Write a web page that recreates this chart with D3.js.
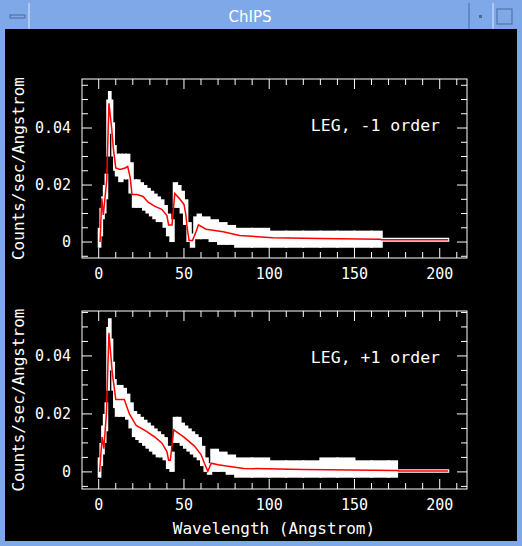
<!DOCTYPE html><html><head><script src="https://d3js.org/d3.v7.min.js"></script>
<style>body{margin:0;background:#000}</style></head><body><script>
const binTop=[0,1,2,3,4,5,6,7,8,9,10,12,14,16,18,20,22,24,26,28,30,32,34,36,38,40,42,44,46,48,50,52,54,56,58,60,65,70,75,80,90,100,110,120,130,140,150,160,166,205];
const loTop=[-0.002,0.002,0.008,0.01,0.015,0.03,0.044,0.038,0.03,0.025,0.023,0.021,0.022,0.022,0.017,0.012,0.012,0.012,0.011,0.010,0.009,0.008,0.007,0.007,0.005,0.002,0.000,0.012,0.012,0.010,0.006,0.000,-0.002,0.001,0.001,0.001,0.000,-0.001,-0.001,-0.002,-0.002,-0.002,-0.002,-0.002,-0.002,-0.002,-0.002,-0.002,0.0001];
const hiTop=[0.005,0.012,0.016,0.02,0.024,0.05,0.053,0.05,0.042,0.034,0.031,0.031,0.031,0.031,0.028,0.022,0.022,0.021,0.020,0.019,0.018,0.017,0.016,0.015,0.013,0.010,0.008,0.021,0.020,0.018,0.015,0.007,0.003,0.009,0.010,0.009,0.008,0.007,0.006,0.005,0.005,0.004,0.004,0.004,0.004,0.004,0.004,0.004,0.0015];
const modXTop=[0.8,1.8,2.7,4.7,6,7.6,8.6,10,12.5,15.5,17,18.5,19.5,22.5,26,29,33,37,40,41,43,44.6,47,50,51,52,53,55,57,58.5,63,73,82.6,102,130,165,166,205];
const modYTop=[0,0.0153,0.0095,0.0218,0.0487,0.040,0.0327,0.026,0.0255,0.026,0.0265,0.0225,0.0167,0.0167,0.016,0.014,0.0125,0.0115,0.0093,0.006,0.006,0.017,0.0155,0.0132,0.010,0.0045,0.0005,0.0005,0.0035,0.006,0.0045,0.0036,0.0023,0.0015,0.0012,0.001,0.0008,0.0008];
const binBot=[0,1,2,3,4,5,6,7,8,9,10,12,14,16,18,20,22,24,26,28,30,32,34,36,38,40,42,44,46,48,50,52,54,56,58,60,62,64,66,70,75,80,90,100,110,120,130,140,150,160,170,175,205];
const loBot=[-0.002,0.002,0.006,0.01,0.014,0.028,0.043,0.035,0.028,0.022,0.019,0.019,0.019,0.018,0.015,0.012,0.011,0.010,0.009,0.008,0.007,0.006,0.005,0.005,0.004,0.001,0.000,0.010,0.010,0.009,0.008,0.007,0.006,0.005,0.004,0.002,0.000,-0.001,0.000,0.000,-0.001,-0.002,-0.002,-0.002,-0.002,-0.002,-0.002,-0.002,-0.002,-0.002,-0.002,-0.0003];
const hiBot=[0.005,0.01,0.016,0.02,0.024,0.05,0.053,0.046,0.038,0.032,0.030,0.030,0.029,0.027,0.024,0.021,0.020,0.019,0.018,0.017,0.016,0.015,0.014,0.013,0.012,0.009,0.007,0.019,0.019,0.017,0.016,0.015,0.014,0.013,0.012,0.009,0.005,0.003,0.008,0.007,0.006,0.005,0.005,0.004,0.004,0.004,0.005,0.005,0.004,0.004,0.004,0.0009];
const modXBot=[0.5,2,3,4.5,6,8,10,15,18,22,28,33,37,40,41,42,44,50,56,60,62,64,66,70,75,85,120,175,176,205];
const modYBot=[0,0.012,0.008,0.02,0.048,0.034,0.025,0.025,0.02,0.016,0.014,0.012,0.010,0.007,0.004,0.004,0.0145,0.012,0.009,0.006,0.003,0.0002,0.003,0.0025,0.002,0.0012,0.0008,0.0005,0.0003,0.0003];
const xTicks=[0,50,100,150,200];
const yTicks=[0,0.02,0.04];
const labels=["LEG, -1 order","LEG, +1 order"];

const W=522,H=546;
const svg=d3.select("body").append("svg").attr("width",W).attr("height",H);
const blue="#7ea8e8";
svg.append("rect").attr("width",W).attr("height",H).attr("fill",blue);
svg.append("rect").attr("x",5).attr("y",29).attr("width",512).attr("height",512).attr("fill","#000");
svg.append("line").attr("x1",29).attr("x2",29).attr("y1",3).attr("y2",29).attr("stroke","#dfe9fb");
svg.append("line").attr("x1",469).attr("x2",469).attr("y1",3).attr("y2",29).attr("stroke","#4a6a9a");
svg.append("line").attr("x1",493).attr("x2",493).attr("y1",3).attr("y2",29).attr("stroke","#dfe9fb");
svg.append("rect").attr("x",10).attr("y",15).attr("width",15).attr("height",3).attr("fill","none").attr("stroke","#4a6a9a");
svg.append("rect").attr("x",479).attr("y",15).attr("width",3).attr("height",3).attr("fill","#4a6a9a");
svg.append("rect").attr("x",497).attr("y",9).attr("width",15).attr("height",15).attr("fill","none").attr("stroke","#4a6a9a");
svg.append("text").attr("x",250).attr("y",22).attr("text-anchor","middle").attr("fill","#fff").attr("font-family","DejaVu Sans").attr("font-size",15).text("ChIPS");

const x=d3.scaleLinear().domain([-9.8,216]).range([82,467]);
const font="DejaVu Sans Mono";
function panel(top,bottom,ydom,bins,lo,hi,mx,my,label,xlab){
  const y=d3.scaleLinear().domain(ydom).range([bottom,top]);
  const g=svg.append("g");
  for(let i=0;i<bins.length-1;i++){
    g.append("rect").attr("x",x(bins[i])-1).attr("width",x(bins[i+1])-x(bins[i])+2)
     .attr("y",y(hi[i])).attr("height",y(lo[i])-y(hi[i])).attr("fill","#fff");
  }
  g.append("path").datum(mx.map((v,i)=>[v,my[i]])).attr("fill","none").attr("stroke","red").attr("stroke-width",1.5)
   .attr("d",d3.line().x(d=>x(d[0])).y(d=>y(d[1])));
  g.append("rect").attr("x",82).attr("y",top).attr("width",385).attr("height",bottom-top).attr("fill","none").attr("stroke","#fff");
  const tk=(sel)=>sel.attr("stroke","#fff").attr("stroke-width",1);
  d3.range(0,211,10).forEach(v=>{const L=v%50===0?10:6;
    tk(g.append("line").attr("x1",x(v)).attr("x2",x(v)).attr("y1",bottom).attr("y2",bottom-L));
    tk(g.append("line").attr("x1",x(v)).attr("x2",x(v)).attr("y1",top).attr("y2",top+L));});
  d3.range(-0.005,ydom[1],0.005).forEach(v=>{const maj=Math.abs(Math.round(v/0.02)*0.02-v)<1e-6;const L=maj?10:6;
    tk(g.append("line").attr("x1",82).attr("x2",82+L).attr("y1",y(v)).attr("y2",y(v)));
    tk(g.append("line").attr("x1",467).attr("x2",467-L).attr("y1",y(v)).attr("y2",y(v)));});
  xTicks.forEach(v=>g.append("text").attr("x",x(v)).attr("y",bottom+21).attr("text-anchor","middle").attr("fill","#fff").attr("font-family",font).attr("font-size",15).text(v));
  yTicks.forEach(v=>g.append("text").attr("x",71).attr("y",y(v)+5).attr("text-anchor","end").attr("fill","#fff").attr("font-family",font).attr("font-size",15).text(v===0?"0":v.toFixed(2)));
  g.append("text").attr("transform",`translate(24,${(top+bottom)/2}) rotate(-90)`).attr("text-anchor","middle").attr("fill","#fff").attr("font-family",font).attr("font-size",16).text("Counts/sec/Angstrom");
  g.append("text").attr("x",440).attr("y",top+52).attr("text-anchor","end").attr("fill","#fff").attr("font-family",font).attr("font-size",16.5).text(label);
  if(xlab) g.append("text").attr("x",274).attr("y",534).attr("text-anchor","middle").attr("fill","#fff").attr("font-family",font).attr("font-size",16).text("Wavelength (Angstrom)");
}
panel(79,258,[-0.0056,0.0572],binTop,loTop,hiTop,modXTop,modYTop,labels[0],false);
panel(311,489,[-0.0059,0.0555],binBot,loBot,hiBot,modXBot,modYBot,labels[1],true);
</script></body></html>
